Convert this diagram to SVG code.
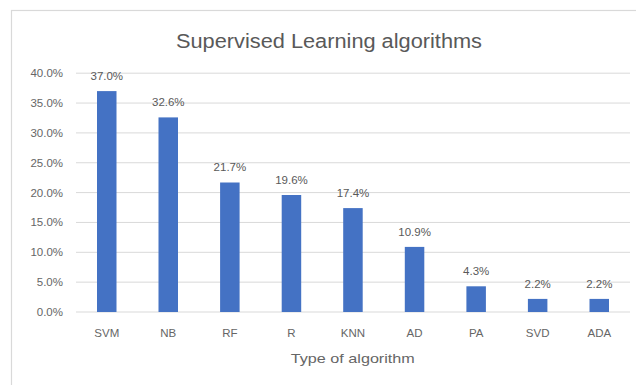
<svg xmlns="http://www.w3.org/2000/svg" width="636" height="385" viewBox="0 0 636 385">
<style>
  .grid { stroke: #d9d9d9; stroke-width: 1; }
  .bar { fill: #4472c4; }
  .tick { font-family: "Liberation Sans", Arial, sans-serif; font-size: 11.5px; fill: #666666; text-anchor: end; }
  .cat { font-family: "Liberation Sans", Arial, sans-serif; font-size: 11.5px; fill: #666666; text-anchor: middle; }
  .val { font-family: "Liberation Sans", Arial, sans-serif; font-size: 11.5px; fill: #595959; text-anchor: middle; }
  .title { font-family: "Liberation Sans", Arial, sans-serif; font-size: 19.5px; fill: #595959; text-anchor: middle; }
  .axt { font-family: "Liberation Sans", Arial, sans-serif; font-size: 13px; fill: #666666; text-anchor: middle; }
</style>
<rect x="0" y="0" width="636" height="385" fill="#ffffff"/>
<rect x="11.5" y="10.5" width="660" height="420" fill="#ffffff" stroke="#d9d9d9" stroke-width="1.2"/>
<text class="title" x="329" y="48" textLength="306" lengthAdjust="spacingAndGlyphs">Supervised  Learning algorithms</text>
<g id="gridlines">
  <line class="grid" x1="76" y1="73.2" x2="630" y2="73.2"/>
  <line class="grid" x1="76" y1="103.05" x2="630" y2="103.05"/>
  <line class="grid" x1="76" y1="132.9" x2="630" y2="132.9"/>
  <line class="grid" x1="76" y1="162.75" x2="630" y2="162.75"/>
  <line class="grid" x1="76" y1="192.6" x2="630" y2="192.6"/>
  <line class="grid" x1="76" y1="222.45" x2="630" y2="222.45"/>
  <line class="grid" x1="76" y1="252.3" x2="630" y2="252.3"/>
  <line class="grid" x1="76" y1="282.15" x2="630" y2="282.15"/>
  <line class="grid" x1="76" y1="312" x2="630" y2="312" stroke-width="1.5"/>
</g>
<g id="y-axis">
  <text class="tick" x="63" y="77.2">40.0%</text>
  <text class="tick" x="63" y="107">35.0%</text>
  <text class="tick" x="63" y="136.9">30.0%</text>
  <text class="tick" x="63" y="166.7">25.0%</text>
  <text class="tick" x="63" y="196.6">20.0%</text>
  <text class="tick" x="63" y="226.4">15.0%</text>
  <text class="tick" x="63" y="256.3">10.0%</text>
  <text class="tick" x="63" y="286.1">5.0%</text>
  <text class="tick" x="63" y="316">0.0%</text>
</g>
<g id="bar-SVM"><rect class="bar" x="97" y="91.1" width="19.5" height="220.9"/><text class="val" x="106.8" y="80">37.0%</text><text class="cat" x="106.8" y="337">SVM</text></g>
<g id="bar-NB"><rect class="bar" x="158.5" y="117.4" width="19.5" height="194.6"/><text class="val" x="168.3" y="106">32.6%</text><text class="cat" x="168.3" y="337">NB</text></g>
<g id="bar-RF"><rect class="bar" x="220.1" y="182.5" width="19.5" height="129.5"/><text class="val" x="229.9" y="171">21.7%</text><text class="cat" x="229.9" y="337">RF</text></g>
<g id="bar-R"><rect class="bar" x="281.7" y="195" width="19.5" height="117"/><text class="val" x="291.5" y="183.5">19.6%</text><text class="cat" x="291.5" y="337">R</text></g>
<g id="bar-KNN"><rect class="bar" x="343.2" y="208.1" width="19.5" height="103.9"/><text class="val" x="353" y="196.5">17.4%</text><text class="cat" x="353" y="337">KNN</text></g>
<g id="bar-AD"><rect class="bar" x="404.8" y="246.9" width="19.5" height="65.1"/><text class="val" x="414.6" y="235.5">10.9%</text><text class="cat" x="414.6" y="337">AD</text></g>
<g id="bar-PA"><rect class="bar" x="466.4" y="286.3" width="19.5" height="25.7"/><text class="val" x="476.2" y="274.5">4.3%</text><text class="cat" x="476.2" y="337">PA</text></g>
<g id="bar-SVD"><rect class="bar" x="527.9" y="298.9" width="19.5" height="13.1"/><text class="val" x="537.7" y="287.5">2.2%</text><text class="cat" x="537.7" y="337">SVD</text></g>
<g id="bar-ADA"><rect class="bar" x="589.5" y="298.9" width="19.5" height="13.1"/><text class="val" x="599.3" y="287.5">2.2%</text><text class="cat" x="599.3" y="337">ADA</text></g>
<text class="axt" x="352.8" y="362.5" textLength="124" lengthAdjust="spacingAndGlyphs">Type of algorithm</text>
</svg>
